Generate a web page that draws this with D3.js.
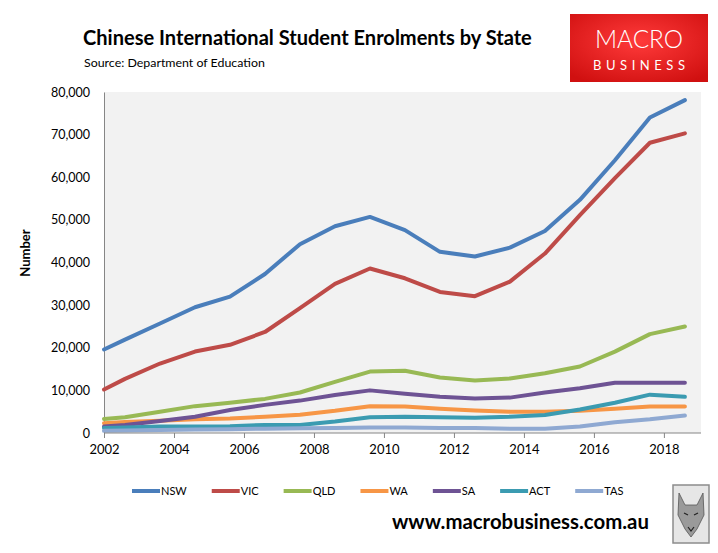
<!DOCTYPE html>
<html>
<head>
<meta charset="utf-8">
<script src="https://cdn.jsdelivr.net/npm/d3@7"></script>
<style>
  body { margin: 0; background: #fff; }
  text { font-family: Lato, "Open Sans", sans-serif; }
</style>
</head>
<body>
<script>
// data
var years = [2002, 2002.6, 2003.6, 2004.6, 2005.6, 2006.6, 2007.6, 2008.6, 2009.6,
             2010.6, 2011.6, 2012.6, 2013.6, 2014.6, 2015.6, 2016.6, 2017.6, 2018.6];
var nsw = [19600, 21900, 25700, 29500, 32000, 37300, 44300, 48500, 50700, 47600, 42500, 41400, 43500, 47400, 54700, 64000, 74000, 78100];
var vic = [10200, 12700, 16300, 19100, 20700, 23700, 29300, 35000, 38600, 36300, 33100, 32100, 35500, 42100, 51100, 59800, 68100, 70300];
var qld = [3300, 3700, 5000, 6300, 7100, 8000, 9500, 12000, 14400, 14600, 13000, 12300, 12800, 14000, 15600, 19100, 23200, 25000];
var wa  = [2300, 2600, 2900, 3200, 3400, 3800, 4300, 5200, 6300, 6200, 5700, 5300, 5000, 5000, 5200, 5700, 6200, 6200];
var sa  = [1500, 1900, 2800, 3800, 5400, 6600, 7600, 8900, 10000, 9200, 8500, 8100, 8300, 9500, 10500, 11800, 11800, 11800];
var act = [1200, 1300, 1500, 1500, 1600, 1900, 1900, 2700, 3700, 3800, 3700, 3600, 3800, 4200, 5500, 7100, 9000, 8500];
var tas = [500, 600, 700, 800, 900, 1000, 1100, 1200, 1300, 1300, 1200, 1200, 1000, 1000, 1500, 2500, 3200, 4100];

var seriesNames = ["NSW", "VIC", "QLD", "WA", "SA", "ACT", "TAS"];
var seriesValues = [nsw, vic, qld, wa, sa, act, tas];
var xTicks = [2002, 2004, 2006, 2008, 2010, 2012, 2014, 2016, 2018];
var yTicks = [0, 10000, 20000, 30000, 40000, 50000, 60000, 70000, 80000];

var colors = ["#4a7ebb", "#be4b48", "#98b954", "#f79646", "#6e5394", "#3b9bb1", "#8fa9d2"];

var W = 718, H = 553;
var plot = {left: 104, right: 701, top: 92, bottom: 433};

var svg = d3.select("body").append("svg")
    .attr("width", W)
    .attr("height", H);

// shrink/grow a text so it fills a given width
function fitText(sel, target) {
  var w = sel.node().getComputedTextLength();
  var fs = parseFloat(sel.attr("font-size"));
  sel.attr("font-size", fs * target / w);
}

// titles
var title = svg.append("text")
    .attr("x", 83).attr("y", 45)
    .attr("font-size", 19).attr("font-weight", "bold")
    .attr("fill", "#000")
    .text("Chinese International Student Enrolments by State");
fitText(title, 449);

var sub = svg.append("text")
    .attr("x", 84).attr("y", 67)
    .attr("font-size", 12).attr("fill", "#000")
    .text("Source: Department of Education");
fitText(sub, 181);

// logo
var logoGrad = svg.append("defs").append("radialGradient")
    .attr("id", "logoGrad").attr("cx", "50%").attr("cy", "40%").attr("r", "70%");
logoGrad.append("stop").attr("offset", "0%").attr("stop-color", "#ff3a3a");
logoGrad.append("stop").attr("offset", "100%").attr("stop-color", "#d01010");

svg.append("rect")
    .attr("x", 570).attr("y", 14).attr("width", 138).attr("height", 68)
    .attr("fill", "url(#logoGrad)");
svg.append("text")
    .attr("x", 639).attr("y", 48)
    .attr("text-anchor", "middle")
    .attr("font-size", 25).attr("font-weight", 300)
    .attr("textLength", 88).attr("lengthAdjust", "spacingAndGlyphs")
    .attr("fill", "#fff")
    .text("MACRO");
svg.append("text")
    .attr("x", 639).attr("y", 70)
    .attr("text-anchor", "middle")
    .attr("font-size", 13)
    .attr("textLength", 92).attr("lengthAdjust", "spacing")
    .attr("fill", "#fff")
    .text("BUSINESS");

// scales
var x = d3.scaleLinear().domain([2002, 2019.06]).range([plot.left, plot.right]);
var y = d3.scaleLinear().domain([0, 80000]).range([plot.bottom, plot.top]);

svg.append("rect")
    .attr("x", plot.left).attr("y", plot.top)
    .attr("width", plot.right - plot.left).attr("height", plot.bottom - plot.top)
    .attr("fill", "#f2f2f2");

// y axis
var yAxis = svg.append("g")
    .attr("transform", "translate(" + plot.left + ",0)")
    .call(d3.axisLeft(y).tickValues(yTicks).tickSize(0).tickPadding(14)
      .tickFormat(d3.format(",")));
yAxis.select(".domain").attr("stroke", "#868686");
yAxis.selectAll("text").attr("font-size", 12.5).attr("fill", "#000")
    .style("font-family", "Lato, sans-serif");

svg.append("text")
    .attr("transform", "translate(30,253) rotate(-90)")
    .attr("text-anchor", "middle")
    .attr("font-size", 13).attr("font-weight", "bold")
    .text("Number");

// lines
var line = d3.line()
    .x(function(d, i) { return x(years[i]); })
    .y(function(d) { return y(d); });

svg.append("g").selectAll("path")
    .data(seriesValues)
    .enter().append("path")
    .attr("d", line)
    .attr("fill", "none")
    .attr("stroke", function(d, i) { return colors[i]; })
    .attr("stroke-width", 4)
    .attr("stroke-linejoin", "round")
    .attr("stroke-linecap", "round");

// x axis
var xAxis = svg.append("g")
    .attr("transform", "translate(0," + plot.bottom + ")")
    .call(d3.axisBottom(x).tickValues(xTicks).tickSize(5).tickPadding(7)
      .tickFormat(d3.format("d")));
xAxis.select(".domain").attr("stroke", "#868686").attr("d", "M" + plot.left + ",0H" + plot.right);
xAxis.selectAll(".tick line").attr("stroke", "#868686");
xAxis.selectAll("text").attr("font-size", 13).attr("fill", "#000")
    .style("font-family", "Lato, sans-serif");

// legend
var legend = svg.append("g").attr("transform", "translate(0,491)");
var lx = 132;
seriesNames.forEach(function(name, i) {
  var g = legend.append("g").attr("transform", "translate(" + lx + ",0)");
  g.append("line")
      .attr("x1", 0).attr("x2", 28)
      .attr("stroke", colors[i]).attr("stroke-width", 4);
  var t = g.append("text")
      .attr("x", 29).attr("y", 4)
      .attr("font-size", 11).attr("fill", "#000")
      .text(name);
  lx += 28 + t.node().getComputedTextLength() + 26;
});

// footer
var site = svg.append("text")
    .attr("x", 392).attr("y", 529)
    .attr("font-size", 18).attr("font-weight", "bold")
    .attr("fill", "#000")
    .text("www.macrobusiness.com.au");
fitText(site, 257);

// small wolf badge
var badge = svg.append("g").attr("transform", "translate(673,485)");
badge.append("rect")
    .attr("width", 36).attr("height", 58)
    .attr("fill", "#e6e6e6").attr("stroke", "#8c8c8c").attr("stroke-width", 1.5);
badge.append("path")
    .attr("d", "M6,8 L12,20 L24,20 L30,8 L31,30 L24,44 L18,52 L12,44 L5,30 Z")
    .attr("fill", "#9a9a9a").attr("stroke", "#555").attr("stroke-width", 0.8);
badge.append("path")
    .attr("d", "M11,28 L15,30 M25,28 L21,30 M15,42 L18,46 L21,42")
    .attr("fill", "none").attr("stroke", "#222").attr("stroke-width", 1.2);
</script>
</body>
</html>
